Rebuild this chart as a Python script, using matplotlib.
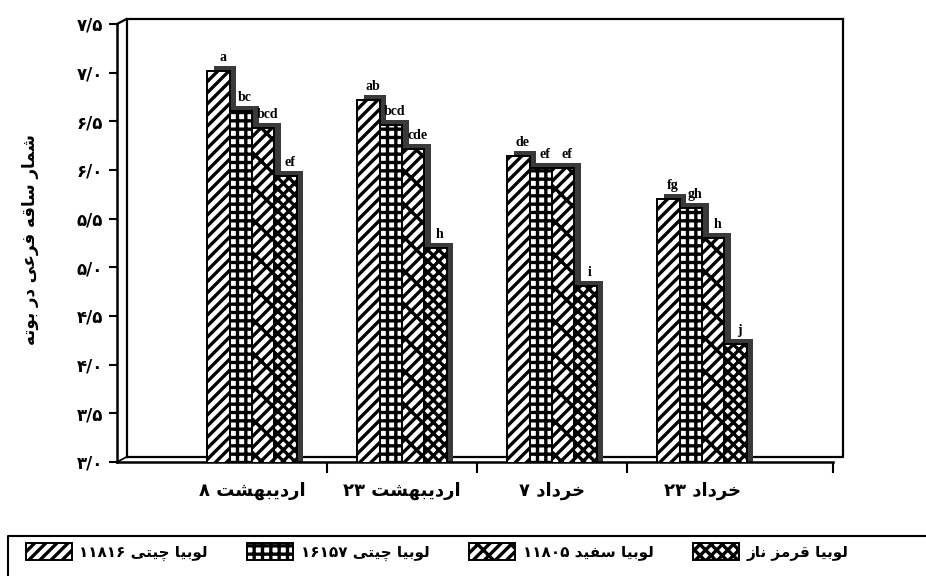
import matplotlib
matplotlib.use("Agg")
import matplotlib.pyplot as plt
import numpy as np
from matplotlib.patches import Patch
from matplotlib.lines import Line2D

# --- data ---
dates = ['اردیبهشت ۸', 'اردیبهشت ۲۳', 'خرداد ۷', 'خرداد ۲۳']
series_names = ['لوبیا چیتی ۱۱۸۱۶', 'لوبیا چیتی ۱۶۱۵۷', 'لوبیا سفید ۱۱۸۰۵', 'لوبیا قرمز ناز']
chiti_11816 = [7.02, 6.72, 6.14, 5.70]
chiti_16157 = [6.61, 6.46, 6.02, 5.61]
sefid_11805 = [6.43, 6.22, 6.02, 5.30]
ghermez_naz = [5.94, 5.20, 4.81, 4.21]
letters = [['a', 'ab', 'de', 'fg'],
           ['bc', 'bcd', 'ef', 'gh'],
           ['bcd', 'cde', 'ef', 'h'],
           ['ef', 'h', 'i', 'j']]
yticks = [3.0, 3.5, 4.0, 4.5, 5.0, 5.5, 6.0, 6.5, 7.0, 7.5]
ytick_labels = ['۳/۰', '۳/۵', '۴/۰', '۴/۵', '۵/۰', '۵/۵', '۶/۰', '۶/۵', '۷/۰', '۷/۵']
ylabel = 'شمار ساقه فرعی در بوته'

# --- minimal persian shaping (presentation forms) + right-to-left order ---
FORMS = {
    'ا': (0xFE8D, 0xFE8E, None, None), 'د': (0xFEA9, 0xFEAA, None, None),
    'ر': (0xFEAD, 0xFEAE, None, None), 'ز': (0xFEAF, 0xFEB0, None, None),
    'و': (0xFEED, 0xFEEE, None, None),
    'ب': (0xFE8F, 0xFE90, 0xFE91, 0xFE92), 'ت': (0xFE95, 0xFE96, 0xFE97, 0xFE98),
    'خ': (0xFEA5, 0xFEA6, 0xFEA7, 0xFEA8), 'س': (0xFEB1, 0xFEB2, 0xFEB3, 0xFEB4),
    'ش': (0xFEB5, 0xFEB6, 0xFEB7, 0xFEB8), 'ع': (0xFEC9, 0xFECA, 0xFECB, 0xFECC),
    'ف': (0xFED1, 0xFED2, 0xFED3, 0xFED4), 'ق': (0xFED5, 0xFED6, 0xFED7, 0xFED8),
    'ل': (0xFEDD, 0xFEDE, 0xFEDF, 0xFEE0), 'م': (0xFEE1, 0xFEE2, 0xFEE3, 0xFEE4),
    'ن': (0xFEE5, 0xFEE6, 0xFEE7, 0xFEE8), 'ه': (0xFEE9, 0xFEEA, 0xFEEB, 0xFEEC),
    'ی': (0xFBFC, 0xFBFD, 0xFBFE, 0xFBFF), 'چ': (0xFB7A, 0xFB7B, 0xFB7C, 0xFB7D),
}


def dual(c):
    return c in FORMS and FORMS[c][2] is not None


def shape(word):
    out = []
    for i, c in enumerate(word):
        if c not in FORMS:
            out.append(c)
            continue
        prev = i > 0 and dual(word[i - 1])
        nxt = i < len(word) - 1 and dual(c) and word[i + 1] in FORMS
        iso, fin, ini, med = FORMS[c]
        if prev and nxt:
            code = med
        elif prev:
            code = fin
        elif nxt:
            code = ini
        else:
            code = iso
        out.append(chr(code))
    return ''.join(out)


def fa(text):
    parts = []
    for tok in reversed(text.split(' ')):
        if any(ch in FORMS for ch in tok):
            parts.append(shape(tok)[::-1])
        else:
            parts.append(tok)
    return ' '.join(parts)


plt.rcParams['font.family'] = ['DejaVu Sans']
plt.rcParams['hatch.linewidth'] = 2.4

fig = plt.figure(figsize=(9.26, 5.76), dpi=100)
W, H = 926, 576
ax = fig.add_axes([117 / W, 1 - 462 / H, 716 / W, 438 / H])

x = np.arange(len(dates))
values = [chiti_11816, chiti_16157, sefid_11805, ghermez_naz]
bw = 0.149
dx = 0.045
dy = 0.052
styles = [
    dict(facecolor='white', edgecolor='black', hatch='///'),
    dict(facecolor='white', edgecolor='black', hatch='++'),
    dict(facecolor='white', edgecolor='black', hatch='///\\'),
    dict(facecolor='white', edgecolor='black', hatch='xxx'),
]

for k, vals in enumerate(values):
    xs = x + (k - 1.5) * bw
    # dark side/top of the 3d block
    ax.bar(xs + dx, np.array(vals) + dy, width=bw, color='#3a3a3a', linewidth=0, zorder=2)
    ax.bar(xs, vals, width=bw, linewidth=1.4, zorder=3, **styles[k])
    for xi, v, lab in zip(xs, vals, letters[k]):
        ax.text(xi + dx * 0.6, v + dy + 0.02, lab, ha='center', va='bottom',
                fontsize=10, fontweight='bold', family='Liberation Serif', zorder=4)

ax.set_ylim(3.0, 7.5)
ax.set_xlim(-0.9, 3.873)
ax.set_yticks(yticks)
ax.set_yticklabels(ytick_labels, fontsize=12, fontweight='bold')
ax.set_xticks(x)
ax.set_xticklabels([fa(d) for d in dates], fontsize=13, fontweight='bold')
ax.set_xticks([0.5, 1.5, 2.5, 3.873], minor=True)
ax.tick_params(axis='x', which='major', length=0, pad=14)
ax.tick_params(axis='x', which='minor', length=8, width=1.5, direction='out')
ax.tick_params(axis='y', length=6, width=1.5, direction='out', pad=4)

for s in ['top', 'right']:
    ax.spines[s].set_visible(False)
for s in ['left', 'bottom']:
    ax.spines[s].set_linewidth(1.8)

# back wall of the 3d frame
ox, oy = 9.5 / 716, 5 / 438
back = dict(color='black', lw=1.6, transform=ax.transAxes, clip_on=False, zorder=1)
ax.plot([ox, ox, 1 + 0.0134], [oy, 1 + oy, 1 + oy], **back)
ax.plot([1 + 0.0134, 1 + 0.0134, ox], [1 + oy, oy, oy], **back)
ax.plot([0, ox], [1, 1 + oy], **back)
ax.plot([0, ox], [0, oy], color='black', lw=1.2, transform=ax.transAxes, clip_on=False)

fig.text(30 / W, 1 - 240 / H, fa(ylabel), rotation=90, ha='center', va='center',
         fontsize=12, fontweight='bold')

# legend
handles = [Patch(linewidth=1.4, **st) for st in styles]
fig.legend(handles, [fa(n) for n in series_names], loc='center left',
           bbox_to_anchor=(12 / W, 1 - 552 / H), ncol=4, frameon=False,
           prop=dict(family='DejaVu Sans', weight='bold', size=11),
           handlelength=3.0, handleheight=1.3, handletextpad=0.5, columnspacing=2.6)
fig.add_artist(Line2D([8 / W, 8 / W, 1.0], [0.0, 1 - 536 / H, 1 - 536 / H],
                      transform=fig.transFigure, color='black', lw=1.5))

fig.savefig('out.png', dpi=100)
